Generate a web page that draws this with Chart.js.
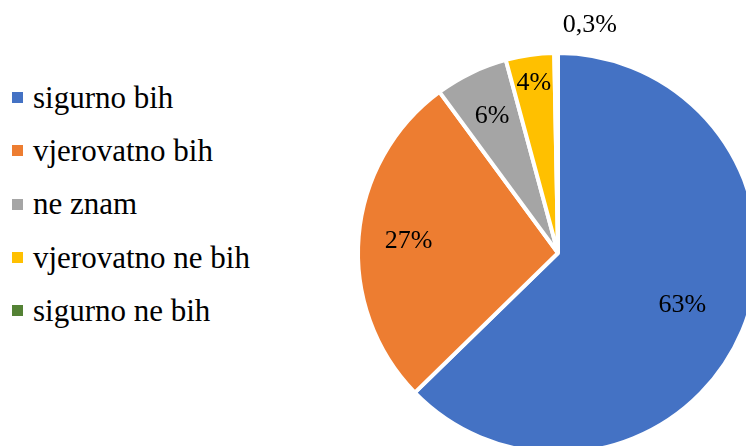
<!DOCTYPE html>
<html>
<head>
<meta charset="utf-8">
<script src="https://cdn.jsdelivr.net/npm/chart.js@4"></script>
<style>
  html, body { margin: 0; padding: 0; width: 746px; height: 446px; overflow: hidden; background: #fff; }
  #wrap { position: relative; width: 746px; height: 446px; overflow: hidden; }
  #pie-box { position: absolute; left: 340px; top: 0; width: 440px; height: 470px; }
  #legend { position: absolute; left: 12px; top: 71px; font-family: "Liberation Serif", "Times New Roman", Times, "Nimbus Roman", "Noto Serif", FreeSerif, "DejaVu Serif", serif; font-size: 31px; color: #000; }
  .leg-item { display: flex; align-items: center; height: 53.3px; white-space: nowrap; }
  .leg-box { width: 11px; height: 11px; margin-right: 10px; flex-shrink: 0; }
</style>
</head>
<body>
<div id="wrap">
  <div id="legend"></div>
  <div id="pie-box"><canvas id="pie"></canvas></div>
</div>
<script>
const categories = ['sigurno bih', 'vjerovatno bih', 'ne znam', 'vjerovatno ne bih', 'sigurno ne bih'];
const values = [62.7, 27.2, 5.9, 3.9, 0.3];
const colors = ['#4472C4', '#ED7D31', '#A5A5A5', '#FFC000', '#548235'];

// label placement: fraction of radius from centre, plus pixel shift
const labelRadius = [0.675, 0.75, 0.76, 0.86, 1.14];
const labelShift = [[0, 0], [0, 0], [0, 0], [0, 0], [34, 0]];

const serif = '"Liberation Serif", "Times New Roman", Times, "Nimbus Roman", "Noto Serif", FreeSerif, "DejaVu Serif", serif';

function fmtPct(v) {
  return v < 1 ? v.toFixed(1).replace('.', ',') + '%' : Math.round(v) + '%';
}

document.getElementById('legend').innerHTML = categories.map((c, i) => `
  <div class="leg-item"><span class="leg-box" style="background:${colors[i]}"></span>${c}</div>`).join('');

const pieLabels = {
  id: 'pieLabels',
  afterDatasetsDraw(chart) {
    const ctx = chart.ctx;
    const meta = chart.getDatasetMeta(0);
    ctx.save();
    ctx.font = '26px ' + serif;
    ctx.fillStyle = '#000';
    ctx.textAlign = 'center';
    ctx.textBaseline = 'middle';
    meta.data.forEach((arc, i) => {
      const { x, y, startAngle, endAngle, outerRadius } = arc.getProps(['x', 'y', 'startAngle', 'endAngle', 'outerRadius'], true);
      const mid = (startAngle + endAngle) / 2;
      const r = outerRadius * labelRadius[i];
      const lx = x + Math.cos(mid) * r + labelShift[i][0];
      const ly = y + Math.sin(mid) * r + labelShift[i][1];
      ctx.fillText(fmtPct(values[i]), lx, ly);
    });
    ctx.restore();
  }
};

new Chart(document.getElementById('pie').getContext('2d'), {
  type: 'pie',
  data: {
    labels: categories,
    datasets: [{
      data: values,
      backgroundColor: colors,
      borderColor: '#fff',
      borderWidth: 4
    }]
  },
  options: {
    responsive: true,
    maintainAspectRatio: false,
    animation: false,
    radius: 200,
    layout: { padding: { left: 18, right: 22, top: 53, bottom: 17 } },
    plugins: {
      legend: { display: false },
      tooltip: { enabled: false }
    }
  },
  plugins: [pieLabels]
});
</script>
</body>
</html>
